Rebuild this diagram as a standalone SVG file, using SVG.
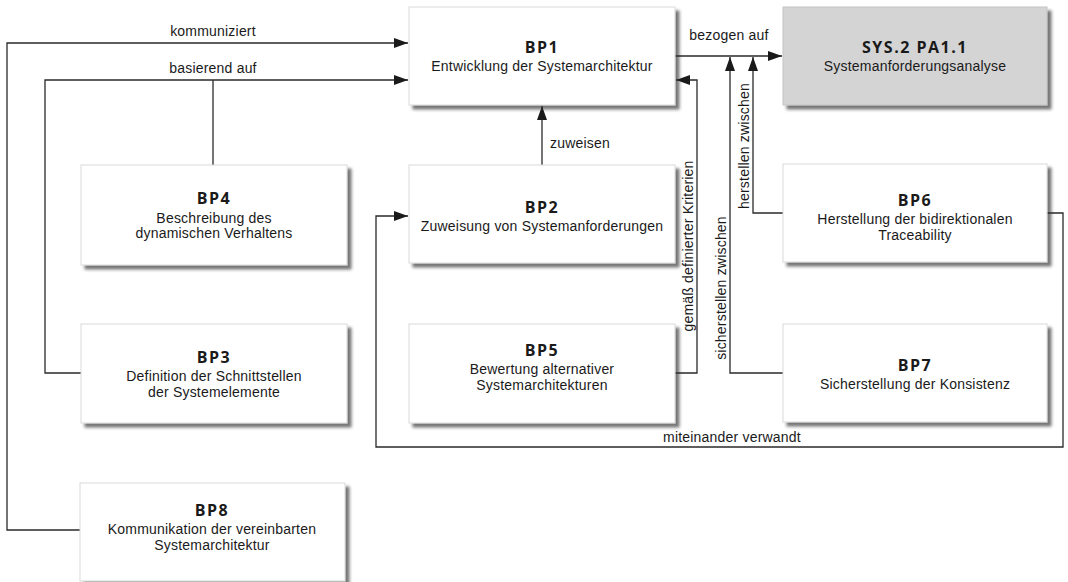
<svg xmlns="http://www.w3.org/2000/svg" width="1068" height="582" viewBox="0 0 1068 582">
  <style>
    .box { fill: #ffffff; stroke: #d9d9d9; stroke-width: 1; filter: url(#shadow); }
    .box.ext { fill: #d4d4d4; stroke: #c4c4c4; }
    .title { font-family: "Open Sans", "DejaVu Sans", sans-serif; font-weight: bold; font-size: 16px; letter-spacing: 1.5px; fill: #1a1a1a; text-anchor: middle; }
    .sub, .lbl { font-family: "Liberation Sans", Arial, sans-serif; font-size: 14px; letter-spacing: 0.2px; fill: #1a1a1a; text-anchor: middle; }
    .conn { fill: none; stroke: #2a2a2a; stroke-width: 1.3; }
    .arrow { marker-end: url(#head); }
  </style>
  <defs>
    <filter id="shadow" x="-10%" y="-10%" width="125%" height="130%">
      <feDropShadow dx="4" dy="4" stdDeviation="1.5" flood-color="#2a2a2a" flood-opacity="0.65"/>
    </filter>
    <marker id="head" viewBox="0 0 14 10" refX="14" refY="5" markerWidth="14" markerHeight="10" markerUnits="userSpaceOnUse" orient="auto">
      <path d="M0,0 L14,5 L0,10 z" fill="#1a1a1a"/>
    </marker>
  </defs>

  <rect width="1068" height="582" fill="#ffffff"/>

  <!-- connectors -->
  <g id="connectors">
    <path class="conn arrow" d="M80,530 H7 V43 H408"/>
    <path class="conn arrow" d="M81,373 H45 V80 H408"/>
    <path class="conn" d="M213,80 V165"/>
    <path class="conn arrow" d="M675,56 H782"/>
    <path class="conn arrow" d="M542,165 V106"/>
    <path class="conn arrow" d="M675,373 H697 V80 H676"/>
    <path class="conn arrow" d="M783,373 H730 V57"/>
    <path class="conn arrow" d="M783,213 H753 V57"/>
    <path class="conn arrow" d="M1047,213 H1063 V447 H376 V216 H408"/>

    <text class="lbl" x="213" y="36">kommuniziert</text>
    <text class="lbl" x="213" y="73">basierend auf</text>
    <text class="lbl" x="729" y="40">bezogen auf</text>
    <text class="lbl" x="550" y="148" style="text-anchor:start">zuweisen</text>
    <text class="lbl" transform="translate(693,246) rotate(-90)">gemäß definierter Kriterien</text>
    <text class="lbl" transform="translate(726,288) rotate(-90)">sicherstellen zwischen</text>
    <text class="lbl" transform="translate(749,146) rotate(-90)">herstellen zwischen</text>
    <text class="lbl" x="732" y="442">miteinander verwandt</text>
  </g>

  <!-- nodes -->
  <g id="bp1">
    <rect class="box" x="409" y="7" width="266" height="98"/>
    <text class="title" x="542" y="53">BP1</text>
    <text class="sub" x="542" y="71">Entwicklung der Systemarchitektur</text>
  </g>

  <g id="sys2">
    <rect class="box ext" x="783" y="7" width="264" height="98"/>
    <text class="title" x="915" y="53">SYS.2 PA1.1</text>
    <text class="sub" x="915" y="71">Systemanforderungsanalyse</text>
  </g>

  <g id="bp4">
    <rect class="box" x="81" y="165" width="266" height="100"/>
    <text class="title" x="214" y="204">BP4</text>
    <text class="sub" x="214" y="222.5">Beschreibung des</text>
    <text class="sub" x="214" y="238.3">dynamischen Verhaltens</text>
  </g>

  <g id="bp2">
    <rect class="box" x="409" y="165" width="266" height="98"/>
    <text class="title" x="542" y="212.5">BP2</text>
    <text class="sub" x="542" y="231">Zuweisung von Systemanforderungen</text>
  </g>

  <g id="bp6">
    <rect class="box" x="783" y="164" width="264" height="98"/>
    <text class="title" x="915" y="205.5">BP6</text>
    <text class="sub" x="915" y="224">Herstellung der bidirektionalen</text>
    <text class="sub" x="915" y="239.8">Traceability</text>
  </g>

  <g id="bp3">
    <rect class="box" x="81" y="324" width="266" height="99"/>
    <text class="title" x="214" y="362.5">BP3</text>
    <text class="sub" x="214" y="381">Definition der Schnittstellen</text>
    <text class="sub" x="214" y="396.8">der Systemelemente</text>
  </g>

  <g id="bp5">
    <rect class="box" x="409" y="324" width="266" height="99"/>
    <text class="title" x="542" y="355.5">BP5</text>
    <text class="sub" x="542" y="374">Bewertung alternativer</text>
    <text class="sub" x="542" y="389.8">Systemarchitekturen</text>
  </g>

  <g id="bp7">
    <rect class="box" x="783" y="324" width="264" height="98"/>
    <text class="title" x="915" y="370.5">BP7</text>
    <text class="sub" x="915" y="389">Sicherstellung der Konsistenz</text>
  </g>

  <g id="bp8">
    <rect class="box" x="80" y="483" width="265" height="98"/>
    <text class="title" x="212" y="515.5">BP8</text>
    <text class="sub" x="212" y="534">Kommunikation der vereinbarten</text>
    <text class="sub" x="212" y="549.8">Systemarchitektur</text>
  </g>
</svg>
